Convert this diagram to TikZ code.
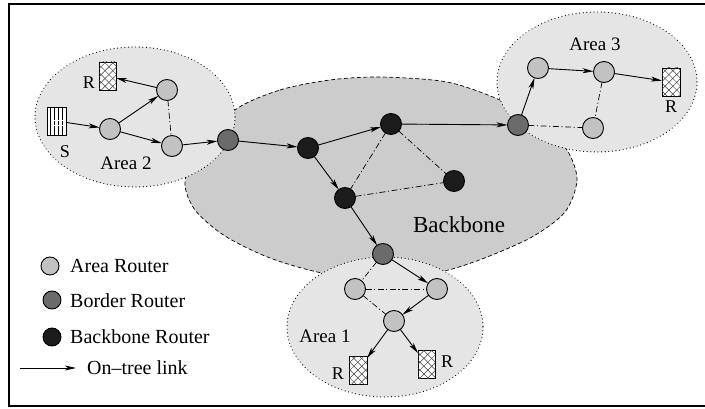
\documentclass[tikz,border=0pt]{standalone}
\usepackage{fontspec}
\setmainfont{Liberation Serif}
\usetikzlibrary{arrows.meta,patterns.meta}
\definecolor{areafill}{gray}{0.9}
\definecolor{bbfill}{gray}{0.8}
\definecolor{arearouter}{gray}{0.76}
\definecolor{borderrouter}{gray}{0.42}
\definecolor{bbrouter}{gray}{0.11}
\begin{document}
\begin{tikzpicture}[x=1pt,y=-1pt,
  router/.style={circle,draw=black,line width=0.9pt,minimum size=21pt,inner sep=0pt,outer sep=0pt},
  ar/.style={router,fill=arearouter},
  br/.style={router,fill=borderrouter},
  kr/.style={router,fill=bbrouter},
  rbox/.style={draw,line width=0.8pt,fill=white,minimum width=17pt,minimum height=28pt,inner sep=0pt,outer sep=0pt,
    postaction={pattern={Lines[angle=45,distance=5.5pt,line width=0.5pt]},pattern color=black!75},
    postaction={pattern={Lines[angle=-45,distance=5.5pt,line width=0.5pt]},pattern color=black!75}},
  sbox/.style={draw,line width=0.8pt,fill=white,minimum width=19pt,minimum height=28pt,inner sep=0pt,outer sep=0pt,
    path picture={
      \foreach \k in {-6,-2,2,6}{\draw[line width=0.9pt] ([xshift=\k pt]path picture bounding box.north) -- ([xshift=\k pt]path picture bounding box.south);}
      \draw[white,line width=0.6pt] ([shift={(-3pt,0.5pt)}]path picture bounding box.center) -- ([shift={(10pt,0.5pt)}]path picture bounding box.center);
      \draw[white,line width=0.6pt] ([shift={(-3pt,-4pt)}]path picture bounding box.center) -- ([shift={(10pt,-4pt)}]path picture bounding box.center);
    }},
  lbl/.style={font=\fontsize{19}{21}\selectfont,inner sep=0pt},
  leg/.style={font=\fontsize{20}{22}\selectfont,inner sep=0pt,anchor=west},
  areaedge/.style={fill=areafill,line width=1.2pt,dash pattern=on 0.01pt off 3.6pt,line cap=round},
  bbedge/.style={fill=bbfill,line width=0.7pt,dash pattern=on 4pt off 2.5pt},
  tree/.style={line width=0.9pt,-{Stealth[length=11pt,width=5pt,inset=3pt]}},
  nontree/.style={line width=0.7pt,dash pattern=on 6pt off 2.5pt on 1.2pt off 2.5pt}
]
\useasboundingbox (0,0) rectangle (705,409);
% frame
\draw[line width=2pt] (712,4.5) -- (9.3,4.5) -- (9.3,406) -- (712,406);

% backbone
\draw[bbedge] plot[smooth cycle] coordinates {(235,110) (280,90) (330,80) (380,77) (447,82) (500,100) (540,122) (567,150) (577,180) (565,212) (532,237) (482,259) (440,272) (380,280) (322,273) (270,258) (225,236) (195,210) (185,182) (200,150)};

% areas
\draw[areaedge] (135,117) ellipse [x radius=100, y radius=70];
\draw[areaedge] (597,82) ellipse [x radius=100, y radius=70];
\draw[areaedge] (385,327) ellipse [x radius=98, y radius=70];

\node[lbl,font=\fontsize{23}{25}\selectfont] (tbb) at (459,225) {Backbone};
\node[lbl] (ta2) at (126,163) {Area 2};
\node[lbl] (ta3) at (595,44) {Area 3};
\node[lbl] (ta1) at (325,336) {Area 1};

% Area 2
\node[sbox] (s) at (56.5,121) {};
\node[lbl,font=\fontsize{18}{20}\selectfont] (ts) at (65,152) {S};
\node[rbox] (r2) at (107.5,76) {};
\node[lbl,font=\fontsize{18}{20}\selectfont] (tr2) at (89,83) {R};
\node[ar] (a2t) at (167,90) {};
\node[ar] (a2l) at (110,129) {};
\node[ar] (a2b) at (172,146) {};
\node[br] (bl) at (228,140) {};

% backbone routers
\node[kr] (k1) at (308,148) {};
\node[kr] (k2) at (391,124) {};
\node[kr] (k3) at (345,198) {};
\node[kr] (k4) at (454,181) {};
\node[br] (brt) at (518,125) {};
\node[br] (bbt) at (383,254) {};

% Area 3
\node[ar] (a3l) at (538,68) {};
\node[ar] (a3m) at (604,72) {};
\node[ar] (a3b) at (593,128) {};
\node[rbox,minimum width=18pt] (r3) at (671,82) {};
\node[lbl,font=\fontsize{18}{20}\selectfont] (tr3) at (671,107) {R};

% Area 1
\node[ar] (a1l) at (355,289) {};
\node[ar] (a1r) at (437,289) {};
\node[ar] (a1c) at (394,321) {};
\node[rbox,minimum width=18pt] (r1l) at (358,370.5) {};
\node[rbox] (r1r) at (426.5,364.5) {};
\node[lbl,font=\fontsize{18}{20}\selectfont] (tr1l) at (338,374) {R};
\node[lbl,font=\fontsize{18}{20}\selectfont] (tr1r) at (447,362) {R};

% links area 2
\draw[tree] (s) -- (a2l);
\draw[tree] (a2l) -- (a2t);
\draw[tree] (a2l) -- (a2b);
\draw[tree] (a2t) -- (r2);
\draw[nontree] (a2t) -- (a2b);
\draw[tree] (a2b) -- (bl);
% backbone links
\draw[tree] (bl) -- (k1);
\draw[tree] (k1) -- (k2);
\draw[tree] (k1) -- (k3);
\draw[tree] (k2) -- (brt);
\draw[nontree] (k2) -- (k3);
\draw[nontree] (k2) -- (k4);
\draw[nontree] (k3) -- (k4);
\draw[tree] (k3) -- (bbt);
% area 3 links
\draw[tree] (brt) -- (a3l);
\draw[tree] (a3l) -- (a3m);
\draw[tree] (a3m) -- (r3);
\draw[nontree] (a3m) -- (a3b);
\draw[nontree] (brt) -- (a3b);
% area 1 links
\draw[tree] (bbt) -- (a1r);
\draw[nontree] (bbt) -- (a1l);
\draw[nontree] (a1l) -- (a1r);
\draw[nontree] (a1l) -- (a1c);
\draw[tree] (a1r) -- (a1c);
\draw[tree] (a1c) -- (r1l);
\draw[tree] (a1c) -- (r1r);

% legend
\node[ar,minimum size=18pt] (la) at (50,266) {};
\node[br,minimum size=18pt] (lb) at (52,300) {};
\node[kr,minimum size=18pt] (lk) at (52,337) {};
\node[leg] (tla) at (70,266) {Area Router};
\node[leg] (tlb) at (70,301) {Border Router};
\node[leg] (tlk) at (70,337) {Backbone Router};
\coordinate (lt1) at (20,368);
\coordinate (lt2) at (76,368);
\draw[tree] (lt1) -- (lt2);
\node[leg] (tlt) at (87,368) {On–tree link};
\end{tikzpicture}
\end{document}
